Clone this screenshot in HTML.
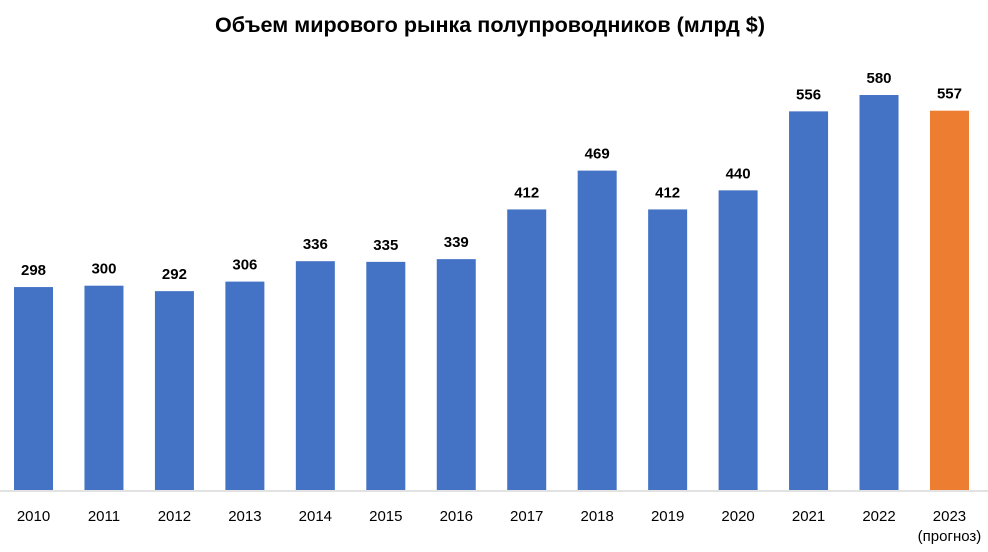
<!DOCTYPE html>
<html><head><meta charset="utf-8"><style>body{margin:0;background:#fff}svg{display:block}</style></head><body>
<svg width="988" height="552" xmlns="http://www.w3.org/2000/svg" font-family="Liberation Sans, DejaVu Sans, sans-serif">
<rect width="988" height="552" fill="#fff"/>
<text x="490" y="32" text-anchor="middle" font-size="21" font-weight="bold" fill="#000" textLength="550" lengthAdjust="spacingAndGlyphs">Объем мирового рынка полупроводников (млрд $)</text>
<line x1="0" y1="491" x2="988" y2="491" stroke="#d9d9d9" stroke-width="1.5"/>
<g id="bars"></g>
</svg>
<script>
(function(){
var v=[298,300,292,306,336,335,339,412,469,412,440,556,580,557];
var g=document.getElementById('bars'),h='';
for(var i=0;i<v.length;i++){var cx=33.5+i*70.46,ht=v[i]*0.681,ty=490-ht;
h+='<rect x="'+(cx-19.5)+'" y="'+ty+'" width="39" height="'+ht+'" fill="'+(i==13?'#ed7d31':'#4472c4')+'"/>';
h+='<text x="'+cx+'" y="'+(ty-12)+'" text-anchor="middle" font-size="15" font-weight="bold">'+v[i]+'</text>';
h+='<text x="'+cx+'" y="521" text-anchor="middle" font-size="15">'+(2010+i)+'</text>';}
h+='<text x="'+(33.5+13*70.46)+'" y="541" text-anchor="middle" font-size="15">(прогноз)</text>';
g.innerHTML=h;
})();
</script>
</body></html>
